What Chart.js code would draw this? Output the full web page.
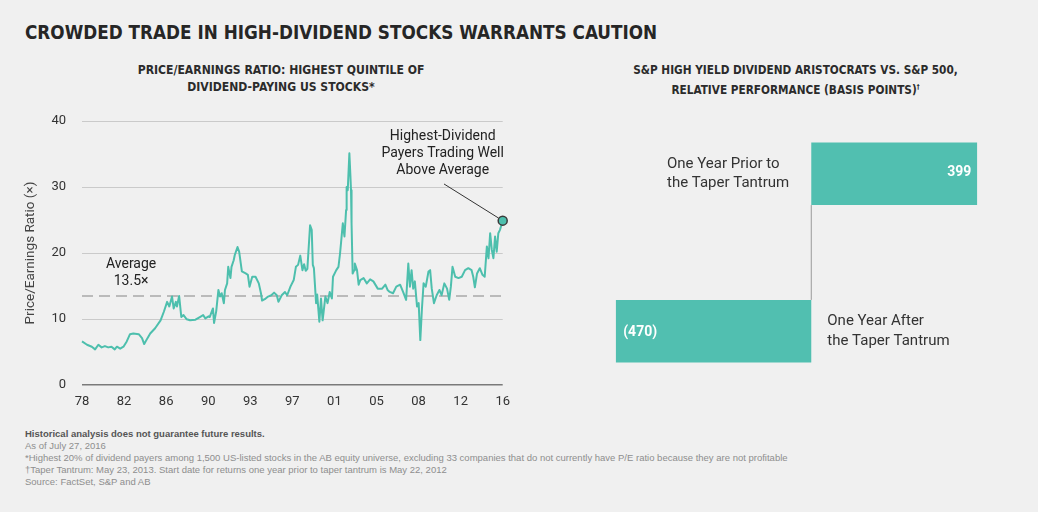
<!DOCTYPE html>
<html>
<head>
<meta charset="utf-8">
<script src="https://cdn.jsdelivr.net/npm/chart.js@4.4.0/dist/chart.umd.min.js"></script>
<style>
  html, body { margin: 0; padding: 0; }
  body {
    width: 1038px; height: 512px; position: relative; overflow: hidden;
    background: #f0f0f0; font-family: Roboto, sans-serif;
  }
  .title {
    position: absolute; left: 25px; top: 22px; white-space: nowrap;
    font: bold 20px/20px "DejaVu Sans Condensed", sans-serif;
    color: #262626;
    transform: scaleX(0.936); transform-origin: 0 0;
  }
  .sub {
    position: absolute; top: 62px; text-align: center; white-space: nowrap;
    font: bold 13px/16.7px "DejaVu Sans Condensed", sans-serif;
    color: #2b2b2b;
  }
  .sub sup { font-size: 7px; vertical-align: 5px; }
  #peWrap  { position: absolute; left: 0;     top: 110px; width: 525px; height: 300px; }
  #barWrap { position: absolute; left: 560px; top: 90px;  width: 478px; height: 330px; }
  .notes {
    position: absolute; left: 25px; top: 428px; white-space: nowrap;
    font: 9.5px/12px "Liberation Sans", Arial, sans-serif; color: #8e8e8e;
  }
  .notes b { color: #555; }
</style>
</head>
<body>

<div class="title">CROWDED TRADE IN HIGH-DIVIDEND STOCKS WARRANTS CAUTION</div>
<div class="sub" style="left:0; width:562px; transform:scaleX(0.93);">PRICE/EARNINGS RATIO: HIGHEST QUINTILE OF<br>DIVIDEND-PAYING US STOCKS*</div>
<div class="sub" style="left:553px; width:485px; transform:scaleX(0.9);">S&amp;P HIGH YIELD DIVIDEND ARISTOCRATS VS. S&amp;P 500,<br>RELATIVE PERFORMANCE (BASIS POINTS)<sup>†</sup></div>

<div id="peWrap"><canvas id="peChart" width="525" height="300"></canvas></div>
<div id="barWrap"><canvas id="barChart" width="478" height="330"></canvas></div>

<div class="notes">
  <b>Historical analysis does not guarantee future results.</b><br>
  As of July 27, 2016<br>
  *Highest 20% of dividend payers among 1,500 US-listed stocks in the AB equity universe, excluding 33 companies that do not currently have P/E ratio because they are not profitable<br>
  †Taper Tantrum: May 23, 2013. Start date for returns one year prior to taper tantrum is May 22, 2012<br>
  Source: FactSet, S&amp;P and AB
</div>

<script>
// ---- data ----
var peYears = [
  1978.0, 1978.46, 1978.9, 1979.2, 1979.5, 1979.8, 1980.1, 1980.4, 1980.7, 1981.0,
  1981.2, 1981.5, 1981.8, 1982.1, 1982.4, 1982.7, 1983.2, 1983.5, 1983.7, 1984.0,
  1984.25, 1984.7, 1985.2, 1985.5, 1985.8, 1986.0, 1986.25, 1986.4, 1986.6, 1986.7,
  1986.9, 1987.1, 1987.3, 1987.6, 1987.9, 1988.4, 1988.8, 1989.1, 1989.3, 1989.6,
  1989.7, 1990.0, 1990.1, 1990.3, 1990.5, 1990.65, 1990.8, 1991.0, 1991.1, 1991.3,
  1991.4, 1991.6, 1991.7, 1991.9, 1992.0, 1992.25, 1992.4, 1992.65, 1993.0, 1993.2,
  1993.35, 1993.6, 1993.9, 1994.2, 1994.4, 1994.5, 1994.75, 1995.05, 1995.35, 1995.6,
  1995.85, 1996.0, 1996.3, 1996.6, 1996.8, 1997.1, 1997.4, 1997.6, 1997.8, 1998.0,
  1998.2, 1998.35, 1998.5, 1998.65, 1998.9, 1999.05, 1999.15, 1999.25, 1999.45, 1999.55,
  1999.75, 1999.9, 2000.05, 2000.3, 2000.5, 2000.7, 2000.9, 2001.0, 2001.3, 2001.5,
  2001.65, 2001.9, 2002.05, 2002.2, 2002.25, 2002.35, 2002.5, 2002.6, 2002.65, 2002.7,
  2002.8, 2002.95, 2003.0, 2003.2, 2003.35, 2003.5, 2003.8, 2004.1, 2004.4, 2004.7,
  2005.1, 2005.5, 2005.8, 2006.0, 2006.2, 2006.5, 2006.8, 2007.15, 2007.45, 2007.7,
  2007.9, 2008.05, 2008.2, 2008.35, 2008.5, 2008.7, 2008.85, 2009.0, 2009.15, 2009.3,
  2009.5, 2009.75, 2009.9, 2010.05, 2010.25, 2010.5, 2010.75, 2010.95, 2011.2, 2011.45,
  2011.65, 2011.8, 2011.95, 2012.2, 2012.5, 2012.8, 2013.1, 2013.4, 2013.7, 2013.85,
  2014.0, 2014.2, 2014.45, 2014.7, 2014.9, 2015.1, 2015.25, 2015.4, 2015.55, 2015.7,
  2015.85, 2016.0, 2016.15, 2016.3, 2016.55
];
var peValues = [
  6.6, 6.1, 5.8, 5.4, 6.1, 5.7, 5.9, 5.7, 5.8, 5.4,
  5.8, 5.5, 5.8, 6.6, 7.7, 7.8, 7.7, 7.1, 6.2, 7.1,
  7.8, 8.6, 9.8, 11.1, 12.6, 11.9, 13.4, 11.6, 12.6, 11.9,
  13.5, 10.3, 10.6, 9.95, 9.8, 9.9, 10.3, 10.6, 10.1, 10.4,
  10.3, 11.6, 9.4, 11.2, 14.4, 13.4, 13.9, 12.4, 14.4, 15.4,
  17.9, 16.2, 17.9, 18.9, 19.7, 20.9, 20.2, 17.2, 16.9, 16.7,
  14.9, 16.4, 16.4, 15.4, 13.9, 12.8, 13.0, 13.4, 13.6, 14.0,
  13.6, 12.6, 13.6, 14.1, 13.6, 14.9, 15.9, 17.9, 18.2, 19.6,
  17.4, 18.3, 17.3, 17.6, 24.2, 23.5, 18.2, 17.7, 12.4, 13.7,
  9.6, 13.1, 9.8, 13.4, 12.4, 14.1, 13.1, 16.4, 17.4, 17.9,
  20.0, 24.5, 22.5, 26.5, 30.0, 29.5, 35.1, 31.5, 29.5, 24.5,
  16.9, 17.4, 18.4, 17.4, 15.2, 15.9, 16.2, 15.4, 16.0, 15.7,
  14.6, 14.6, 15.2, 14.4, 14.1, 13.9, 14.9, 15.2, 14.0, 12.9,
  18.4, 14.9, 17.4, 14.6, 15.7, 11.9, 12.4, 6.8, 11.6, 15.4,
  14.9, 17.2, 17.4, 14.6, 12.4, 13.6, 14.4, 13.6, 15.4, 14.6,
  12.9, 14.9, 17.9, 16.4, 16.2, 16.4, 17.4, 17.7, 17.4, 16.4,
  14.8, 16.9, 17.7, 16.7, 16.4, 21.0, 19.2, 23.0, 20.5, 19.2,
  22.5, 20.2, 23.0, 23.5, 24.9
];
var xTickLabels = ['78', '82', '86', '90', '93', '97', '01', '05', '08', '12', '16'];
var yTickValues = [0, 10, 20, 30, 40];
var AVG_PE = 13.5;

var barCategories = [
  ['One Year Prior to', 'the Taper Tantrum'],
  ['One Year After', 'the Taper Tantrum']
];
var barValues = [399, -470];

// ---- styling ----
var TEAL = '#4dbfad';
var BAR_TEAL = '#51bfb0';
var FONT = 'Roboto, "Noto Sans", sans-serif';
Chart.defaults.font.family = FONT;

var X_MIN = peYears[0];
var X_MAX = peYears[peYears.length - 1];
var lastIdx = peValues.length - 1;

// Labels drawn on the P/E chart: average label and the callout on the last point
var peNotes = {
  id: 'peNotes',
  afterDatasetsDraw: function(chart) {
    var ctx = chart.ctx;
    var xs = chart.scales.x, ys = chart.scales.y;
    ctx.save();
    ctx.fillStyle = '#222';
    ctx.textAlign = 'center';
    ctx.textBaseline = 'middle';
    ctx.font = '14px ' + FONT;

    var ax = xs.getPixelForValue(1982.5);
    var ay = ys.getPixelForValue(AVG_PE);
    ctx.fillText('Average', ax, ay - 31.5);
    ctx.fillText(AVG_PE + '\u00d7', ax, ay - 14);

    var pt = chart.getDatasetMeta(0).data[lastIdx];
    var cx = pt.x - 60;
    ctx.fillText('Highest-Dividend', cx, pt.y - 84);
    ctx.fillText('Payers Trading Well', cx, pt.y - 67.4);
    ctx.fillText('Above Average', cx, pt.y - 49.7);

    // leader line to the circle
    var sx = pt.x - 58.7, sy = pt.y - 36.7;
    var dx = pt.x - sx, dy = pt.y - sy, len = Math.sqrt(dx * dx + dy * dy);
    ctx.strokeStyle = '#333';
    ctx.lineWidth = 1;
    ctx.beginPath();
    ctx.moveTo(sx, sy);
    ctx.lineTo(pt.x - dx / len * 5, pt.y - dy / len * 5);
    ctx.stroke();
    ctx.restore();
  }
};

new Chart(document.getElementById('peChart'), {
  type: 'line',
  data: {
    datasets: [{
      data: peYears.map(function(x, i) { return { x: x, y: peValues[i] }; }),
      borderColor: TEAL,
      borderWidth: 2,
      borderJoinStyle: 'round',
      tension: 0,
      clip: false,
      pointRadius: function(c) { return c.dataIndex === lastIdx ? 4.5 : 0; },
      pointBackgroundColor: TEAL,
      pointBorderColor: '#3a3a3a',
      pointBorderWidth: 1.5,
      order: 1
    }, {
      data: [{ x: X_MIN, y: AVG_PE }, { x: X_MAX, y: AVG_PE }],
      borderColor: '#a8a8a8',
      borderWidth: 1.5,
      borderDash: [11, 6],
      pointRadius: 0,
      order: 2
    }]
  },
  options: {
    responsive: false,
    animation: false,
    events: [],
    layout: { padding: { left: 0, top: 11, right: 22.3, bottom: 0 } },
    plugins: { legend: { display: false }, tooltip: { enabled: false } },
    scales: {
      x: {
        type: 'linear',
        min: X_MIN,
        max: X_MAX,
        afterBuildTicks: function(s) {
          var n = xTickLabels.length - 1;
          s.ticks = xTickLabels.map(function(l, i) {
            return { value: X_MIN + i * (X_MAX - X_MIN) / n };
          });
        },
        ticks: {
          autoSkip: false,
          maxRotation: 0,
          padding: 9,
          color: '#333',
          font: { size: 13 },
          callback: function(v, i) { return xTickLabels[i]; }
        },
        grid: { display: false, drawTicks: false },
        border: { display: false },
        afterFit: function(s) { s.height = 25; }
      },
      y: {
        min: yTickValues[0],
        max: yTickValues[yTickValues.length - 1],
        afterBuildTicks: function(s) {
          s.ticks = yTickValues.map(function(v) { return { value: v }; });
        },
        ticks: { padding: 16, color: '#333', font: { size: 13 } },
        grid: {
          drawTicks: false,
          color: function(c) { return c.tick.value === 0 ? '#7a7a7a' : '#cacaca'; },
          lineWidth: function(c) { return c.tick.value === 0 ? 1.5 : 1; }
        },
        border: { display: false },
        title: {
          display: true,
          text: 'Price/Earnings Ratio (\u00d7)',
          color: '#444',
          font: { size: 13.5 },
          padding: { top: 23, bottom: 0 }
        },
        afterFit: function(s) {
          s.width = 82;
          s.paddingTop = 0;
          s.paddingBottom = 0;
        }
      }
    }
  },
  plugins: [peNotes]
});

// Labels on the relative-performance bars
var barNotes = {
  id: 'barNotes',
  afterDatasetsDraw: function(chart) {
    var ctx = chart.ctx;
    var zx = chart.scales.x.getPixelForValue(0);
    var bars = chart.getDatasetMeta(0).data;
    ctx.save();

    // zero line between the two bars
    ctx.strokeStyle = '#9a9a9a';
    ctx.lineWidth = 1;
    ctx.beginPath();
    ctx.moveTo(zx, bars[0].y + bars[0].height / 2);
    ctx.lineTo(zx, bars[1].y - bars[1].height / 2);
    ctx.stroke();

    ctx.textBaseline = 'middle';
    bars.forEach(function(bar, i) {
      var v = barValues[i];
      var lines = barCategories[i];
      var txt = v < 0 ? '(' + Math.abs(v) + ')' : String(v);

      ctx.font = 'bold 14px ' + FONT;
      ctx.fillStyle = '#ffffff';
      if (v >= 0) {
        ctx.textAlign = 'right';
        ctx.fillText(txt, bar.x - 6, bar.y - 1.5);
      } else {
        ctx.textAlign = 'left';
        ctx.fillText(txt, bar.x + 7.5, bar.y + 1.5);
      }

      ctx.font = '15px ' + FONT;
      ctx.fillStyle = '#333';
      ctx.textAlign = 'left';
      var w = Math.max.apply(null, lines.map(function(l) { return ctx.measureText(l).width; }));
      var lx = v >= 0 ? zx - 22 - w : zx + 16;
      lines.forEach(function(l, j) {
        ctx.fillText(l, lx, bar.y + (j - (lines.length - 1) / 2) * 19.3);
      });
    });
    ctx.restore();
  }
};

new Chart(document.getElementById('barChart'), {
  type: 'bar',
  data: {
    labels: barCategories.map(function(c) { return c.join(' '); }),
    datasets: [{
      data: barValues,
      backgroundColor: BAR_TEAL,
      borderWidth: 0,
      barPercentage: 0.398,
      categoryPercentage: 1
    }]
  },
  options: {
    indexAxis: 'y',
    responsive: false,
    animation: false,
    events: [],
    layout: { padding: { left: 55.7, right: 60.7, top: 5, bottom: 10 } },
    plugins: { legend: { display: false }, tooltip: { enabled: false } },
    scales: {
      x: { display: false, min: Math.min.apply(null, barValues), max: Math.max.apply(null, barValues) },
      y: { display: false }
    }
  },
  plugins: [barNotes]
});
</script>
</body>
</html>
